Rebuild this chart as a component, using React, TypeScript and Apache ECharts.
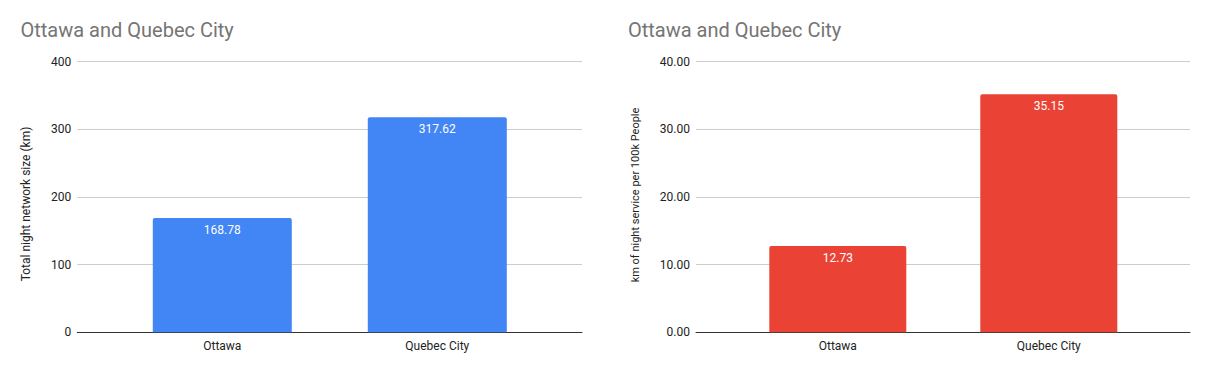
import React, { useEffect, useRef } from "react";
import * as echarts from "echarts";

const categories = ["Ottawa", "Quebec City"];
const networkSizeKm = [168.78, 317.62];
const kmPer100k = [12.73, 35.15];
const chartTitle = "Ottawa and Quebec City";
const leftAxisTitle = "Total night network size (km)";
const rightAxisTitle = "km of night service per 100k People";

const FONT = "Roboto, Arial, sans-serif";
const TOP = 61.5;
const BOTTOM = 371 - 332.3;

export default function App() {
  const ref = useRef<HTMLDivElement>(null);
  useEffect(() => {
    if (!ref.current) return;
    const chart = echarts.init(ref.current, null, { renderer: "svg" });
    const hiddenCat = (gridIndex: number, showLine: boolean) => ({
      type: "category",
      gridIndex,
      data: categories,
      axisLine: { show: showLine, lineStyle: { color: "#333333", width: 1 } },
      axisTick: { show: false },
      axisLabel: { show: false },
      splitLine: { show: false },
    });
    const labelCat = (gridIndex: number) => ({
      type: "category",
      gridIndex,
      data: categories,
      axisLine: { show: false },
      axisTick: { show: false },
      axisLabel: { show: true, color: "#222222", fontSize: 12, fontFamily: FONT, margin: 8 },
      splitLine: { show: false },
    });
    const valAxis = (gridIndex: number, max: number, interval: number, show: boolean, fmt?: (v: number) => string) => ({
      type: "value",
      gridIndex,
      min: 0,
      max,
      interval,
      show,
      axisLine: { show: false },
      axisTick: { show: false },
      axisLabel: { show, color: "#222222", fontSize: 12, fontFamily: FONT, margin: 6, formatter: fmt },
      splitLine: { show, lineStyle: { color: "#cccccc", width: 1 } },
    });
    const barLabel = (fmt: (v: number) => string) => ({
      show: true,
      position: "insideTop",
      distance: 6,
      color: "#ffffff",
      fontSize: 12,
      fontFamily: FONT,
      formatter: (p: any) => fmt(p.value),
    });
    const titleStyle = { fontFamily: FONT, fontSize: 20, fontWeight: "normal", color: "#757575" };
    chart.setOption({
      animation: false,
      backgroundColor: "#ffffff",
      title: [
        { text: chartTitle, left: 20.5, top: 20, padding: 0, textStyle: titleStyle },
        { text: chartTitle, left: 628, top: 20, padding: 0, textStyle: titleStyle },
      ],
      grid: [
        { left: 77.3, right: 1209 - 582, top: TOP, bottom: BOTTOM },
        { left: 114.8, width: 430, top: TOP, bottom: BOTTOM },
        { left: 696, right: 1209 - 1190, top: TOP, bottom: BOTTOM },
        { left: 732.3, width: 422, top: TOP, bottom: BOTTOM },
      ],
      xAxis: [hiddenCat(0, true), labelCat(1), hiddenCat(2, true), labelCat(3)],
      yAxis: [
        valAxis(0, 400, 100, true, (v: number) => String(v)),
        valAxis(1, 400, 100, false),
        valAxis(2, 40, 10, true, (v: number) => v.toFixed(2)),
        valAxis(3, 40, 10, false),
      ],
      series: [
        {
          type: "bar",
          xAxisIndex: 1,
          yAxisIndex: 1,
          data: networkSizeKm,
          barWidth: 139,
          itemStyle: { color: "#4285F4", borderRadius: [2, 2, 0, 0] },
          label: barLabel((v) => v.toFixed(2)),
        },
        {
          type: "bar",
          xAxisIndex: 3,
          yAxisIndex: 3,
          data: kmPer100k,
          barWidth: 137,
          itemStyle: { color: "#EA4335", borderRadius: [2, 2, 0, 0] },
          label: barLabel((v) => v.toFixed(2)),
        },
      ],
      graphic: [
        {
          type: "text",
          x: 26,
          y: 204,
          rotation: Math.PI / 2,
          style: { text: leftAxisTitle, fill: "#222222", fontSize: 12, fontFamily: FONT, align: "center", verticalAlign: "middle" },
        },
        {
          type: "text",
          x: 635.5,
          y: 195,
          rotation: Math.PI / 2,
          style: { text: rightAxisTitle, fill: "#222222", fontSize: 11, fontFamily: FONT, align: "center", verticalAlign: "middle" },
        },
      ],
    });
    return () => chart.dispose();
  }, []);
  return <div ref={ref} style={{ position: "absolute", left: 0, top: 0, width: 1209, height: 371 }} />;
}
